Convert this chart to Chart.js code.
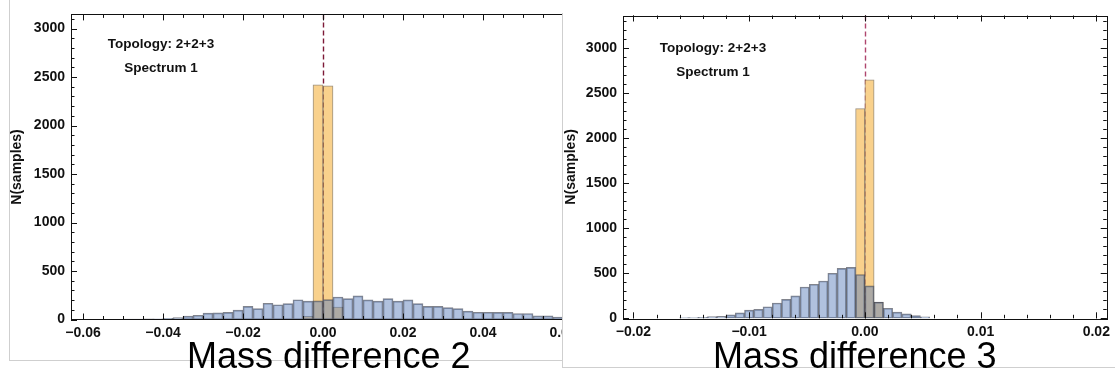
<!DOCTYPE html>
<html>
<head>
<meta charset="utf-8">
<script src="https://cdn.jsdelivr.net/npm/chart.js@4"></script>
<style>
  body { margin: 0; width: 1115px; height: 378px; background: #fff; position: relative; overflow: hidden; }
  #panel2 { position: absolute; left: 9px; top: -2px; width: 600px; height: 362px; border-left: 1px solid #cfcfcf; border-bottom: 1px solid #cfcfcf; z-index: 1; }
  #mass2 { position: absolute; left: 0; top: 0; z-index: 2; }
  #panel3 { position: absolute; left: 562px; top: 13px; width: 600px; height: 354px; background: #fff; border-left: 1px solid #cfcfcf; border-bottom: 1px solid #cfcfcf; z-index: 3; }
  #mass3 { position: absolute; left: 555px; top: 0; z-index: 4; }
  .caption { position: absolute; z-index: 5; font-family: "Liberation Sans", Arial, sans-serif; font-size: 36px; line-height: 36px; color: #000; white-space: nowrap; }
  #cap2 { left: 187px; top: 338px; }
  #cap3 { left: 713px; top: 338px; }
</style>
</head>
<body>
<div id="panel2"></div>
<canvas id="mass2" width="620" height="345"></canvas>
<div id="panel3"></div>
<canvas id="mass3" width="560" height="345"></canvas>
<div class="caption" id="cap2">Mass difference 2</div>
<div class="caption" id="cap3">Mass difference 3</div>

<script>
// mass difference 2 : bins of 0.0025
var binWidth2 = 0.0025;
var wideStart2 = -0.05;
var wideCounts2 = [4, 5, 6, 8, 12, 20, 34, 44, 66, 68, 74, 96, 136, 112, 168, 152, 163, 204, 190, 192,
                   205, 232, 215, 243, 203, 190, 216, 190, 203, 163, 136, 136, 122, 112, 86, 75, 75, 74, 74, 62, 62, 38, 38, 25, 25];
var peakStart2 = -0.005;
var peakCounts2 = [32, 2420, 2410, 128, 8];
var xTicks2 = [-0.06, -0.04, -0.02, 0, 0.02, 0.04, 0.06];

// mass difference 3 : bins of 0.0008
var binWidth3 = 0.0008;
var wideStart3 = -0.016;
var wideCounts3 = [8, 8, 12, 20, 22, 38, 60, 90, 100, 128, 170, 211, 250, 348, 378, 414, 500, 555, 566, 487,
                   360, 180, 112, 68, 50, 30, 15];
var peakStart3 = -0.0008;
var peakCounts3 = [2330, 2650, 178];
var xTicks3 = [-0.02, -0.01, 0, 0.01, 0.02];

var yTicks = [0, 500, 1000, 1500, 2000, 2500, 3000];

var labelFont = { family: '"Liberation Sans", Arial, sans-serif', size: 14, weight: 'bold' };

function toPoints(start, width, counts) {
  return counts.map(function (c, i) { return { x: start + (i + 0.5) * width, y: c }; });
}

function fmtX(v) {
  if (Math.abs(v) < 1e-9) return '0.00';
  var s = Math.abs(v).toFixed(2);
  return v < 0 ? '\u2212' + s : s;
}

// frame with inward ticks on all four sides, dashed line at zero
var framePlugin = {
  id: 'frame',
  beforeDatasetsDraw: function (chart, args, opts) {
    var ctx = chart.ctx, a = chart.chartArea;
    var px = Math.round(chart.scales.x.getPixelForValue(0)) + 0.5;
    ctx.save();
    ctx.strokeStyle = opts.dash;
    ctx.lineWidth = 1.4;
    ctx.setLineDash([5, 3]);
    ctx.beginPath();
    ctx.moveTo(px, a.top);
    ctx.lineTo(px, a.bottom);
    ctx.stroke();
    ctx.restore();
  },
  afterDatasetsDraw: function (chart, args, opts) {
    var ctx = chart.ctx, a = chart.chartArea;
    var x = chart.scales.x, y = chart.scales.y;
    ctx.save();
    ctx.strokeStyle = '#111';
    ctx.lineWidth = 1;
    ctx.strokeRect(Math.round(a.left) + 0.5, Math.round(a.top) + 0.5,
                   Math.round(a.right - a.left), Math.round(a.bottom - a.top));
    ctx.beginPath();
    function marks(scale, step, len, horiz) {
      var i0 = Math.ceil(scale.min / step - 1e-6), i1 = Math.floor(scale.max / step + 1e-6);
      for (var i = i0; i <= i1; i++) {
        var p = Math.round(scale.getPixelForValue(i * step)) + 0.5;
        if (horiz) {
          ctx.moveTo(p, a.bottom); ctx.lineTo(p, a.bottom - len);
          ctx.moveTo(p, a.top); ctx.lineTo(p, a.top + len);
        } else {
          ctx.moveTo(a.left, p); ctx.lineTo(a.left + len, p);
          ctx.moveTo(a.right, p); ctx.lineTo(a.right - len, p);
        }
      }
    }
    marks(x, opts.xMajor, 6, true);
    marks(x, opts.xMinor, 3.5, true);
    marks(y, 500, 6, false);
    marks(y, 100, 3.5, false);
    ctx.stroke();
    ctx.restore();
  }
};

function histogram(id, o) {
  return new Chart(document.getElementById(id), {
    type: 'bar',
    data: {
      datasets: [
        {
          data: toPoints(o.wideStart, o.binWidth, o.wide),
          backgroundColor: 'rgba(98,132,190,0.5)',
          borderColor: 'rgba(45,50,65,0.6)',
          borderWidth: 1, borderSkipped: false, grouped: false,
          barPercentage: 1, categoryPercentage: 1
        },
        {
          data: toPoints(o.peakStart, o.binWidth, o.peak),
          backgroundColor: '#f9d18c',
          borderColor: 'rgba(90,70,40,0.6)',
          borderWidth: 1, borderSkipped: false, grouped: false,
          barPercentage: 1, categoryPercentage: 1
        }
      ]
    },
    options: {
      responsive: false,
      animation: false,
      events: [],
      layout: { padding: o.padding },
      plugins: {
        legend: { display: false },
        tooltip: { enabled: false },
        frame: { dash: o.dash, xMajor: o.xMajor, xMinor: o.xMinor }
      },
      scales: {
        x: {
          type: 'linear', min: o.xMin, max: o.xMax, offset: false,
          grid: { display: false, drawTicks: false },
          border: { display: false },
          afterBuildTicks: function (s) { s.ticks = o.xTicks.map(function (v) { return { value: v }; }); },
          afterFit: function (s) { s.height = o.xHeight; },
          ticks: { font: labelFont, color: '#111', padding: 5, autoSkip: false, maxRotation: 0, callback: fmtX }
        },
        y: {
          min: 0, max: o.yMax,
          grid: { display: false, drawTicks: false },
          border: { display: false },
          afterBuildTicks: function (s) { s.ticks = yTicks.map(function (v) { return { value: v }; }); },
          afterFit: function (s) { s.width = o.yWidth; },
          ticks: { font: labelFont, color: '#111', padding: 6, callback: function (v) { return String(v); } },
          title: { display: true, text: 'N(samples)', font: labelFont, color: '#111', padding: { top: o.titlePad, bottom: 0 } }
        }
      }
    },
    plugins: [framePlugin, {
      id: 'notes',
      afterDraw: function (chart) {
        var ctx = chart.ctx;
        ctx.save();
        ctx.fillStyle = '#111';
        ctx.font = 'bold 13.5px "Liberation Sans", Arial, sans-serif';
        ctx.textAlign = 'center';
        ctx.textBaseline = 'middle';
        ctx.fillText('Topology: 2+2+3', o.noteX, o.noteY);
        ctx.fillText('Spectrum 1', o.noteX, o.noteY + 24);
        ctx.restore();
      }
    }]
  });
}

histogram('mass2', {
  binWidth: binWidth2, wideStart: wideStart2, wide: wideCounts2, peakStart: peakStart2, peak: peakCounts2,
  xMin: -0.063, xMax: 0.063, yMax: 3146, xTicks: xTicks2, xMajor: 0.02, xMinor: 0.005,
  padding: { left: 0, top: 9, right: 45, bottom: 0 }, yWidth: 71, xHeight: 25.5, titlePad: 9,
  dash: 'rgb(125,25,55)', noteX: 161, noteY: 44
});

histogram('mass3', {
  binWidth: binWidth3, wideStart: wideStart3, wide: wideCounts3, peakStart: peakStart3, peak: peakCounts3,
  xMin: -0.0209, xMax: 0.0209, yMax: 3364, xTicks: xTicks3, xMajor: 0.01, xMinor: 0.002,
  padding: { left: 0, top: 15.5, right: 3.3, bottom: 0 }, yWidth: 68, xHeight: 26.7, titlePad: 8,
  dash: 'rgb(175,70,110)', noteX: 158, noteY: 48
});
</script>
</body>
</html>
